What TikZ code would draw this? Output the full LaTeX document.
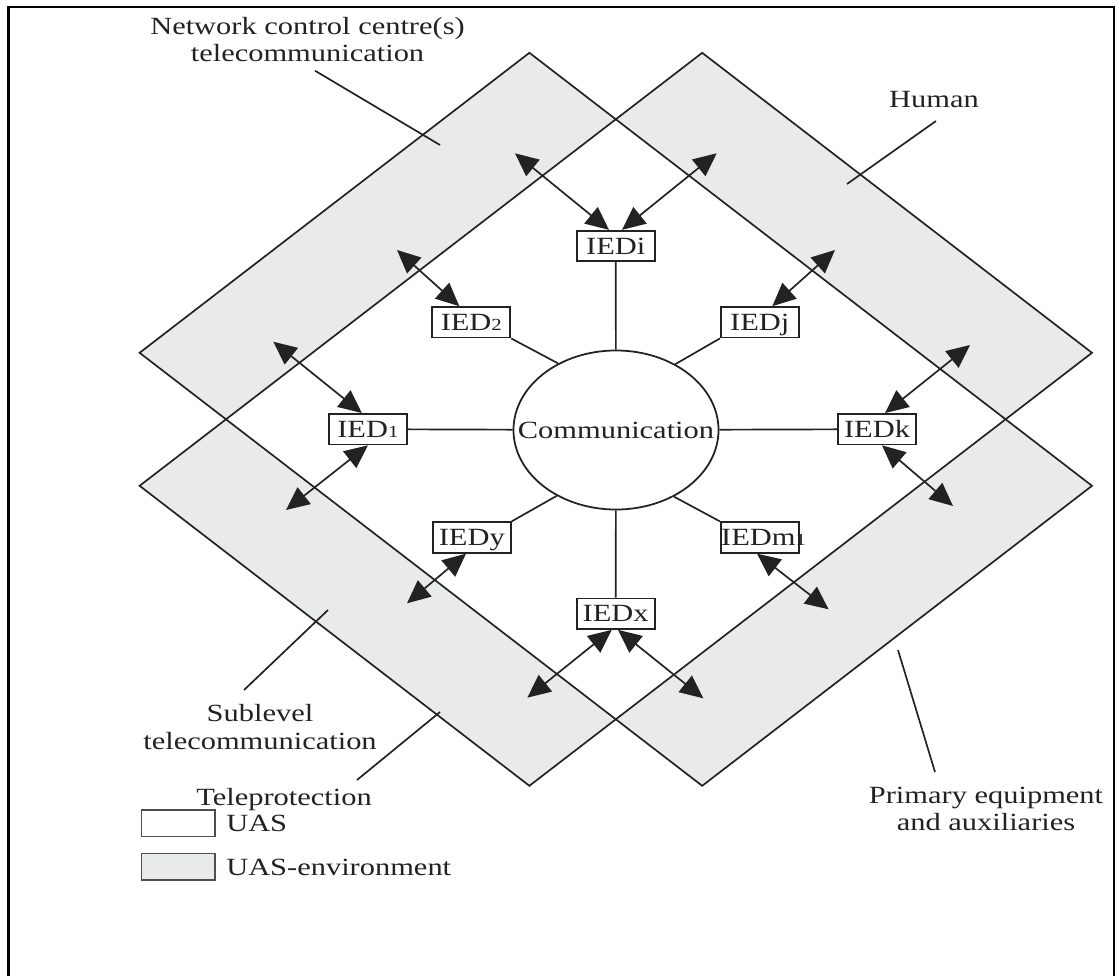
\documentclass[tikz,border=0pt]{standalone}
\usepackage{fontspec}
\setmainfont{Liberation Serif}[FakeStretch=1.23]
\usetikzlibrary{arrows.meta,shapes.geometric,calc}
\definecolor{envgray}{RGB}{233,235,235}
\definecolor{ink}{RGB}{34,34,34}
\newcommand\smalldigit[1]{{\fontsize{12}{12}\selectfont #1}}

\begin{document}
\begin{tikzpicture}[x=0.025cm,y=-0.025cm,
  every node/.style={font=\fontsize{17.6}{19.5}\selectfont, text=ink},
  ied/.style={draw=ink, line width=1.25pt, fill=white, rectangle, inner sep=0pt,
    minimum width=55.5pt, minimum height=21.7pt, text height=11.4pt, text depth=0pt},
  link/.style={draw=ink, line width=1.2pt},
  dblarrow/.style={draw=ink, line width=1.2pt,
    {Triangle[length=16.5pt,width=15pt]}-{Triangle[length=16.5pt,width=15pt]}},
  band/.style={fill=envgray, draw=ink, line width=1.2pt},
  pointer/.style={draw=ink, line width=1.2pt},
  legbox/.style={draw=ink!80, line width=1pt, inner sep=0pt,
    minimum width=52.1pt, minimum height=19pt},
  label/.style={inner sep=0pt, align=center},
]
\useasboundingbox (0,0) rectangle (1119,976);

% outer frame (open at the bottom)
\draw[line width=1.7pt, black] (8.5,976) -- (8.5,7) -- (1114,7) -- (1114,976);

% the four arms of the UAS-environment
\path[band] (139.6,352.8) -- (529.4,52.8) -- (615.8,119.3) -- (226.0,419.3) -- cycle;
\path[band] (615.8,119.3) -- (702.2,52.8) -- (1092.0,352.8) -- (1005.6,419.3) -- cycle;
\path[band] (226.0,419.3) -- (615.8,719.3) -- (529.4,785.8) -- (139.6,485.8) -- cycle;
\path[band] (1005.6,419.3) -- (1092.0,485.8) -- (702.2,785.8) -- (615.8,719.3) -- cycle;

% communication hub
\node[draw=ink, line width=1.25pt, ellipse, inner sep=0pt, fill=white,
      minimum width=145.8pt, minimum height=113.1pt] (comm) at (616,430)
      {\makebox[0pt]{Communication}};

% IEDs
\node[ied] (iedi) at (615.7,246) {IEDi};
\node[ied] (ied2) at (471.3,322.3) {IED\smalldigit{2}};
\node[ied] (iedj) at (759.8,322.3) {IEDj};
\node[ied] (ied1) at (367.9,429.2) {IED\smalldigit{1}};
\node[ied] (iedk) at (877,429.2) {IEDk};
\node[ied] (iedy) at (471.8,537.5) {IEDy};
\node[ied] (iedm) at (759.8,537.5) {\makebox[0pt]{\hspace{5.4pt}IEDm\smalldigit{1}}};
\node[ied] (iedx) at (615.7,613.7) {IEDx};

% links to the communication hub
\draw[link] (iedi) -- (comm);
\draw[link] (iedx) -- (comm);
\draw[link] (ied1) -- (comm);
\draw[link] (iedk) -- (comm);
\draw[link] (ied2.south east) -- (comm.131.8);
\draw[link] (iedj.south west) -- (comm.48.2);
\draw[link] (iedy.north east) -- (comm.228.1);
\draw[link] (iedm.north west) -- (comm.311.9);

% outer ends of the exchanges with the environment
\coordinate (ei1) at (515,153.3);
\coordinate (ei2) at (716.7,153.3);
\coordinate (e2)  at (397,250);
\coordinate (ej)  at (835,250);
\coordinate (e1a) at (273.3,341.7);
\coordinate (e1b) at (286,510);
\coordinate (eka) at (970,345);
\coordinate (ekb) at (953,506);
\coordinate (ey)  at (407,603.3);
\coordinate (em)  at (828.6,609.3);
\coordinate (ex1) at (527.3,697.7);
\coordinate (ex2) at (703.3,698.3);

\draw[dblarrow] ($(iedi.north)+(-6.7,0)$) -- (ei1);
\draw[dblarrow] ($(iedi.north)+(6.3,0)$) -- (ei2);
\draw[dblarrow] ($(ied2.north)+(-12,0)$) -- (e2);
\draw[dblarrow] ($(iedj.north)+(12.5,0)$) -- (ej);
\draw[dblarrow] ($(ied1.north)+(-6,0)$) -- (e1a);
\draw[dblarrow] ($(ied1.south)+(0,0)$) -- (e1b);
\draw[dblarrow] ($(iedk.north)+(8,0)$) -- (eka);
\draw[dblarrow] ($(iedk.south)+(5,0)$) -- (ekb);
\draw[dblarrow] ($(iedy.south)+(-5.8,0)$) -- (ey);
\draw[dblarrow] ($(iedm.south)+(-2.8,0)$) -- (em);
\draw[dblarrow] ($(iedx.south)+(-4,0)$) -- (ex1);
\draw[dblarrow] ($(iedx.south)+(2.3,0)$) -- (ex2);

% labels and their pointers
\node[label] (net) at (307.5,39.5) {Network control centre(s)\\telecommunication};
\node[label] (human) at (934,100) {Human};
\node[label] (sub) at (260,727) {Sublevel\\telecommunication};
\node[label] (tele) at (284,800) {Teleprotection};
\node[label] (prim) at (986,809) {Primary equipment\\and auxiliaries};

\coordinate (pnet) at (440,145);
\coordinate (phum) at (847,184);
\coordinate (psub) at (328,610);
\coordinate (ptel) at (440,712);
\coordinate (ppri) at (898,650);
\draw[pointer] (315,70.7) coordinate (snet) -- (pnet);
\draw[pointer] (936,121) coordinate (shum) -- (phum);
\draw[pointer] (244,690) coordinate (ssub) -- (psub);
\draw[pointer] (357,780) coordinate (stel) -- (ptel);
\draw[pointer] (935,772) coordinate (spri) -- (ppri);

% legend
\node[legbox, fill=white] (leg1) at (178.3,823.3) {};
\node[legbox, fill=envgray] (leg2) at (178.3,866.7) {};
\node[label, anchor=west] (legt1) at (226,823.3) {UAS};
\node[label, anchor=west] (legt2) at (226,867.5) {UAS-environment};
\end{tikzpicture}
\end{document}
